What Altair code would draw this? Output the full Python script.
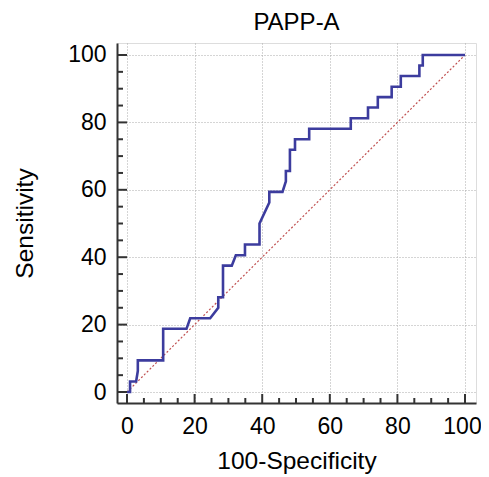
import altair as alt
import pandas as pd

# ROC curve points (100-Specificity, Sensitivity)
fpr = [0, 0.9, 0.9, 2.7, 3.2, 3.2, 10.7, 10.7, 17.6, 18.7, 24.6, 27, 27, 28.4, 28.4,
       31, 32.2, 34.9, 34.9, 39.2, 39.2, 42.1, 42.1, 46, 47, 47, 48.2, 48.2, 49.7,
       49.7, 53.9, 53.9, 66.2, 66.2, 71.3, 71.3, 74.2, 74.2, 78.3, 78.3, 81, 81,
       86.5, 86.5, 87.5, 87.5, 100]
sens = [0, 0, 3.1, 3.1, 6.25, 9.4, 9.4, 18.75, 18.75, 21.9, 21.9, 25, 28.1, 28.1,
        37.5, 37.5, 40.6, 40.6, 43.75, 43.75, 50, 56.25, 59.4, 59.4, 62.5, 65.6,
        65.6, 71.9, 71.9, 75, 75, 78.1, 78.1, 81.25, 81.25, 84.4, 84.4, 87.5, 87.5,
        90.6, 90.6, 93.75, 93.75, 96.9, 96.9, 100, 100]
assert len(fpr) == len(sens)

diag_x = [0, 100]
diag_y = [0, 100]

major_ticks = [0, 20, 40, 60, 80, 100]
minor_ticks = [v for v in range(0, 101, 5) if v % 20 != 0]

FONT = "Liberation Sans"
AXIS_COLOR = "#333333"

roc = pd.DataFrame({"fpr": fpr, "sens": sens, "order": range(len(fpr))})
diag = pd.DataFrame({"fpr": diag_x, "sens": diag_y})
majors = pd.DataFrame({"v": major_ticks})
minors = pd.DataFrame({"v": minor_ticks})

xscale = alt.Scale(domain=[-2.96, 103.25], nice=False, zero=False)
yscale = alt.Scale(domain=[-3.26, 103.56], nice=False, zero=False)

W, H = 359, 360

xaxis = alt.Axis(values=major_ticks, title="100-Specificity", grid=True,
                 gridDash=[1, 2], gridColor="#aaaaaa", gridWidth=1,
                 ticks=False, tickSize=0, domainColor=AXIS_COLOR, domainWidth=2,
                 labelFont=FONT, labelFontSize=23, labelColor="black",
                 labelBaseline="alphabetic", labelPadding=30,
                 labelOffset={"condition": {"test": "datum.value == 100", "value": -3},
                              "value": 0},
                 titleFont=FONT, titleFontSize=24.5, titleFontWeight="normal",
                 titleColor="black", titleBaseline="alphabetic",
                 titleY=65, titleX=W / 2)
yaxis = alt.Axis(values=major_ticks, title="Sensitivity", grid=True,
                 gridDash=[1, 2], gridColor="#aaaaaa", gridWidth=1,
                 ticks=False, tickSize=0, domainColor=AXIS_COLOR, domainWidth=2,
                 labelFont=FONT, labelFontSize=23, labelColor="black",
                 labelPadding=11,
                 titleFont=FONT, titleFontSize=24.5, titleFontWeight="normal",
                 titleColor="black", titleBaseline="bottom", titleAngle=-90,
                 titleAlign="center", titleX=-80, titleY=H / 2)

diag_layer = alt.Chart(diag).mark_line(
    color="#c05050", strokeWidth=1.2, strokeDash=[2, 2]
).encode(
    x=alt.X("fpr:Q", scale=xscale, axis=xaxis),
    y=alt.Y("sens:Q", scale=yscale, axis=yaxis),
)

roc_layer = alt.Chart(roc).mark_line(
    color="#3c3c9e", strokeWidth=2.6, interpolate="linear"
).encode(
    x=alt.X("fpr:Q", scale=xscale, axis=xaxis),
    y=alt.Y("sens:Q", scale=yscale, axis=yaxis),
    order="order:Q",
)

xmaj = alt.Chart(majors).mark_rule(color=AXIS_COLOR, strokeWidth=2).encode(
    x=alt.X("v:Q", scale=xscale, axis=xaxis),
    y=alt.value(H), y2=alt.value(H - 9))
xmin = alt.Chart(minors).mark_rule(color=AXIS_COLOR, strokeWidth=2).encode(
    x=alt.X("v:Q", scale=xscale, axis=xaxis),
    y=alt.value(H), y2=alt.value(H - 5))
ymaj = alt.Chart(majors).mark_rule(color=AXIS_COLOR, strokeWidth=2).encode(
    y=alt.Y("v:Q", scale=yscale, axis=yaxis),
    x=alt.value(0), x2=alt.value(10))
ymin = alt.Chart(minors).mark_rule(color=AXIS_COLOR, strokeWidth=2).encode(
    y=alt.Y("v:Q", scale=yscale, axis=yaxis),
    x=alt.value(0), x2=alt.value(6))

chart = alt.layer(diag_layer, xmaj, xmin, ymaj, ymin, roc_layer).properties(
    width=W, height=H,
    title=alt.TitleParams("PAPP-A", font=FONT, fontSize=24, fontWeight="normal",
                          color="black", anchor="middle", offset=8),
    autosize=alt.AutoSizeParams(type="none"),
    padding={"left": 109, "top": 35, "right": 5, "bottom": 71},
).configure_view(strokeWidth=0).configure(background="white")

chart.save("out.html", embed_options={"renderer": "svg", "actions": False})
